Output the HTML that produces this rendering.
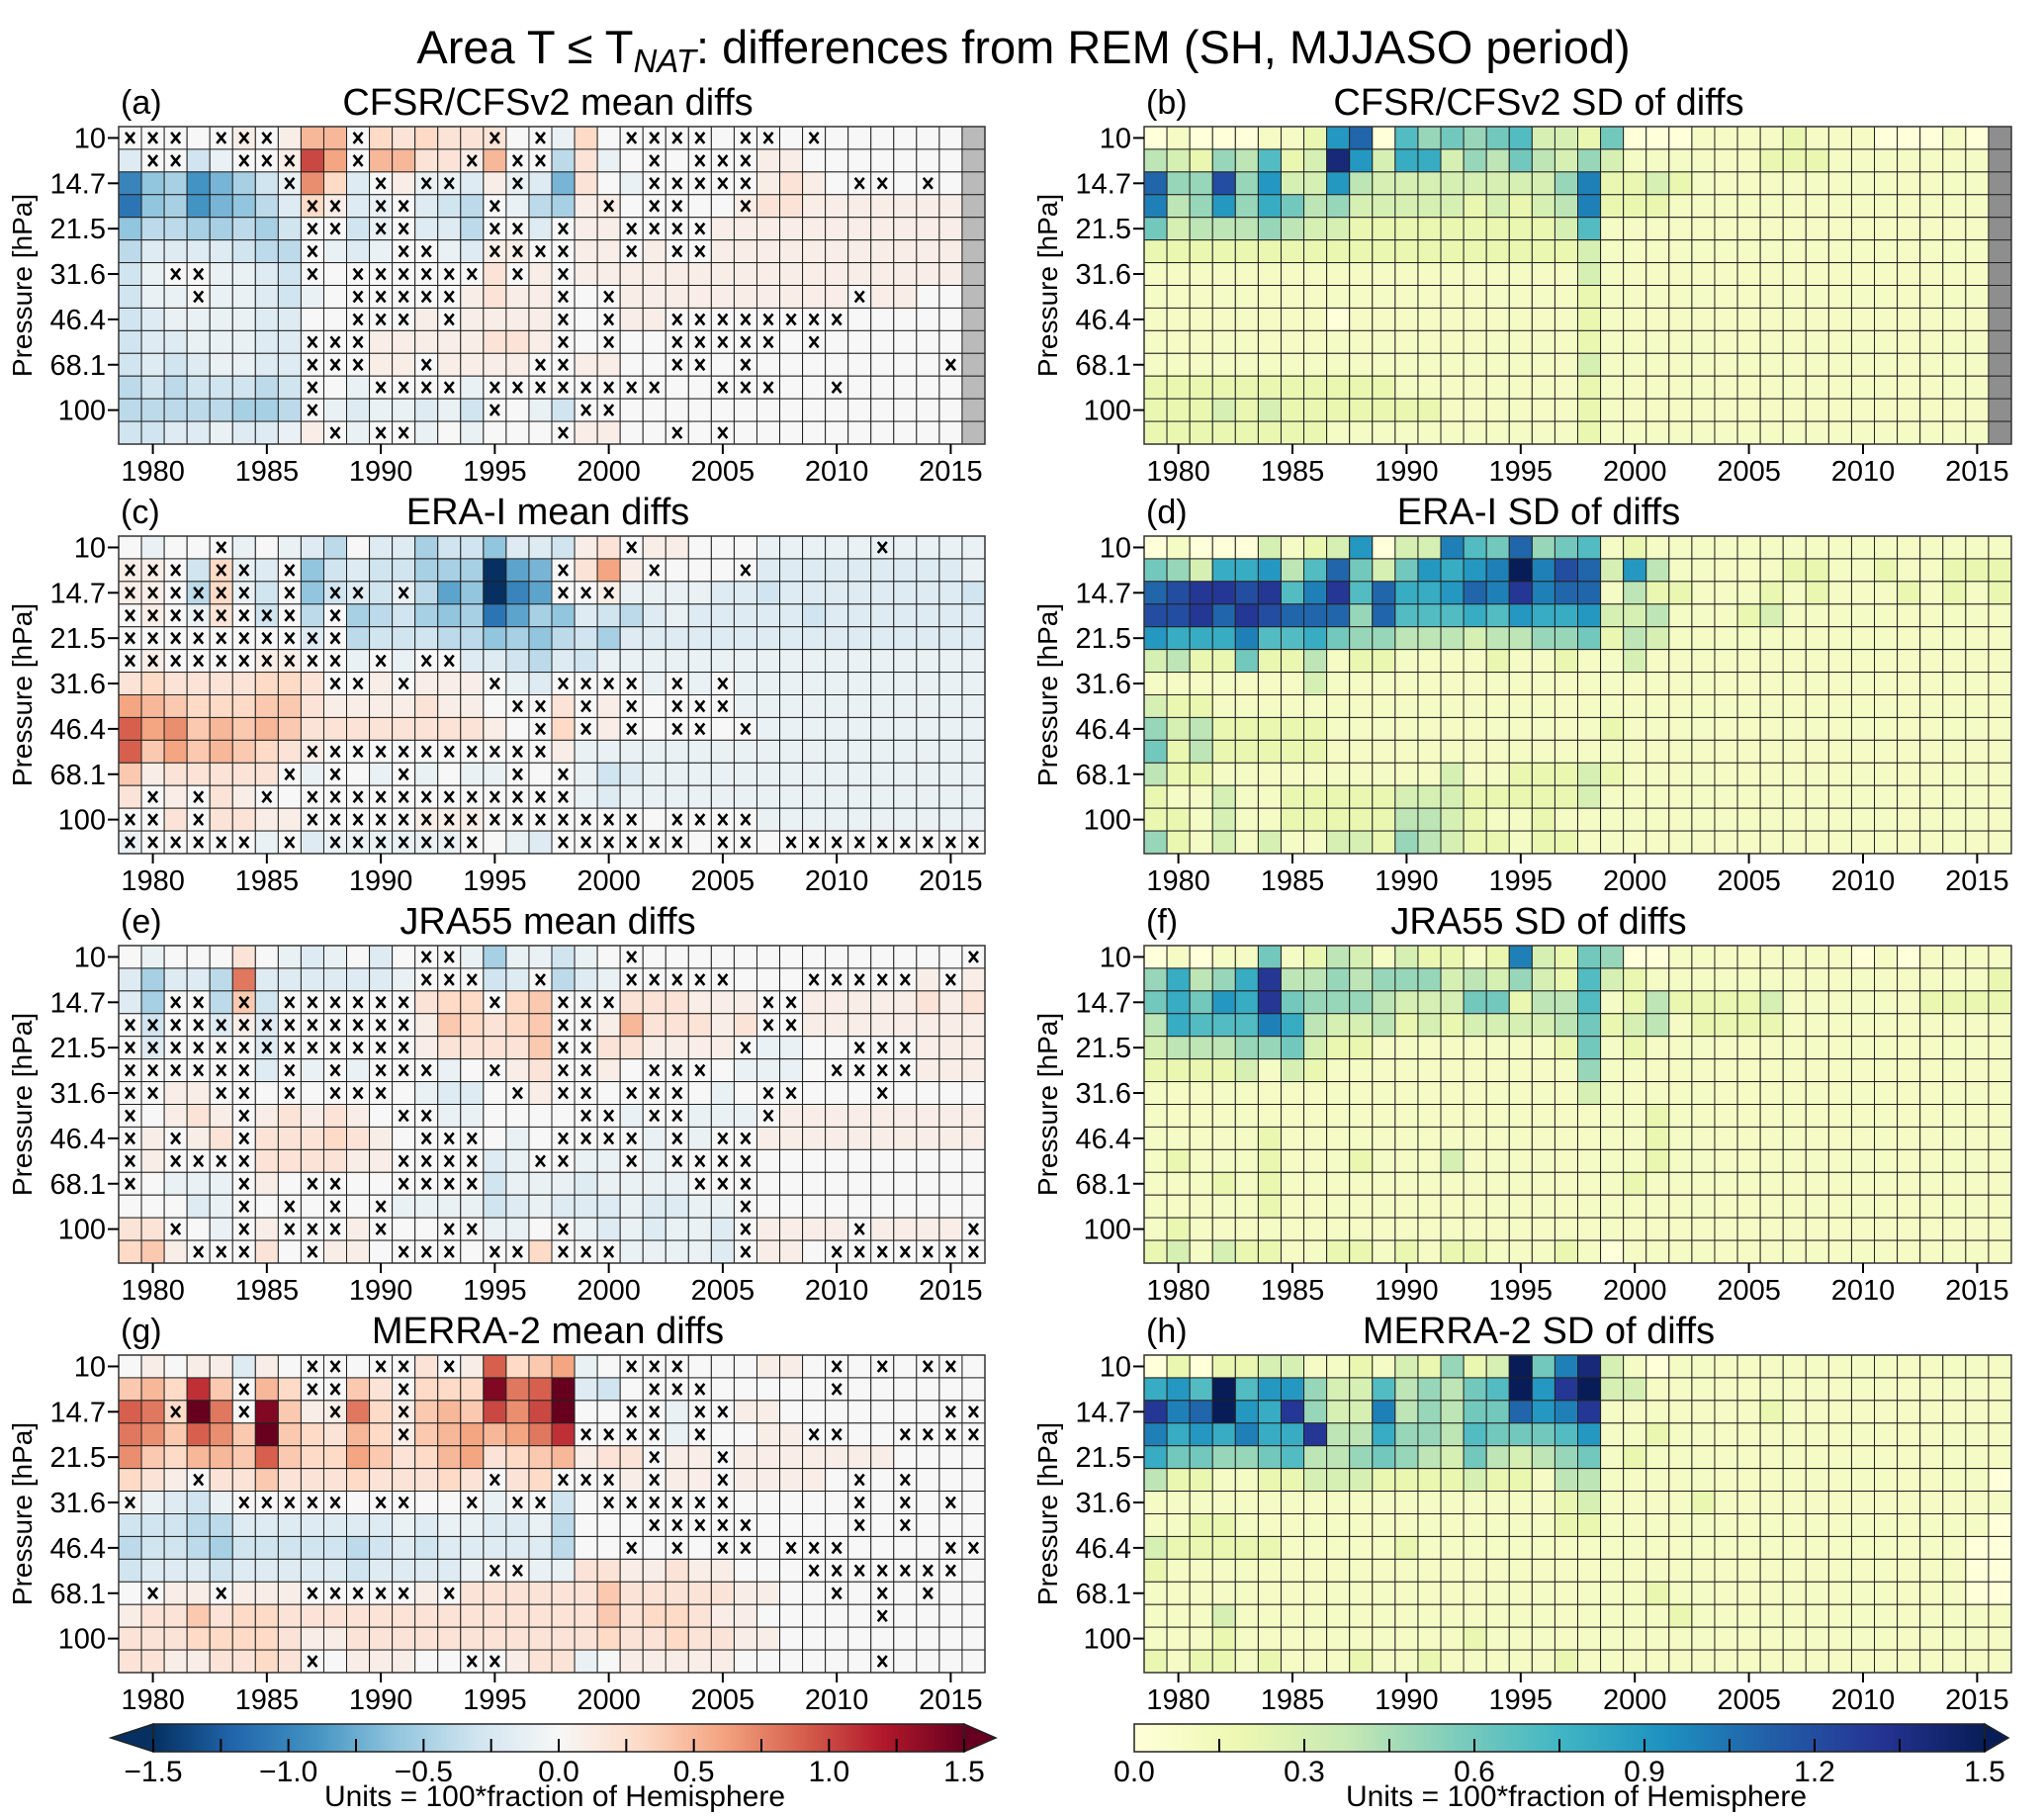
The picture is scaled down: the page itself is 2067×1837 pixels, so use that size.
<!DOCTYPE html>
<html><head><meta charset="utf-8"><style>
html,body{margin:0;padding:0;background:#fff;}
svg{display:block;font-family:"Liberation Sans",Arial,sans-serif;}
</style></head><body>
<svg id="fig" xmlns="http://www.w3.org/2000/svg" width="2067" height="1837" viewBox="0 0 2067 1837">
<text x="1035" y="64" text-anchor="middle" font-size="47">Area T ≤ T<tspan font-size="33" font-style="italic" dy="9">NAT</tspan><tspan dy="-9">: differences from REM (SH, MJJASO period)</tspan></text>
</svg>
<script>
const years=[1979,1980,1981,1982,1983,1984,1985,1986,1987,1988,1989,1990,1991,1992,1993,1994,1995,1996,1997,1998,1999,2000,2001,2002,2003,2004,2005,2006,2007,2008,2009,2010,2011,2012,2013,2014,2015,2016];
const levelLabels=["10","","14.7","","21.5","","31.6","","46.4","","68.1","","100",""];
const xTickYears=[1980,1985,1990,1995,2000,2005,2010,2015];
const meanTicks=[-1.5,-1.0,-0.5,0.0,0.5,1.0,1.5];
const meanTickText=["\u22121.5","\u22121.0","\u22120.5","0.0","0.5","1.0","1.5"];
const sdTicks=[0.0,0.3,0.6,0.9,1.2,1.5];
const sdTickText=["0.0","0.3","0.6","0.9","1.2","1.5"];

// mean diffs: lowercase a..o = -0.1..-1.5, uppercase A..O = +0.1..+1.5, 0 = 0, _ = missing
const meanA=[
"00000A0AEE0CBCBBB00aC"+"0000000000000000"+"_",
"b00ca00AJF0EEBBAE00dB"+"a000000AA0000000"+"_",
"jfeigecaGCb0AaabAabgB"+"0a00000ABA000000"+"_",
"kfeigfdbCAba0bcd0adeA"+"A00000ABBAAAAAAA"+"_",
"fddeedec00ca0bbd00b0A"+"A0000AAAAAAAAAAA"+"_",
"dbbbbcdd0aba00abAA00A"+"A0A00AAAAAAAAAAA"+"_",
"ca00aabc00000000B0A0A"+"AAAAAAAAAAAAAAAA"+"_",
"caa0aabca000000ABAA00"+"0AAAAAAAAAA0AA00"+"_",
"cbaaaabb00000A0AAAA00"+"0AA0000000000000"+"_",
"cbbaaabb000AAAAABBA00"+"0000000000000000"+"_",
"cbcbaabb000AA0AAAA00A"+"A000000000000000"+"_",
"dcdcccdc00a0000a00000"+"0000000000000000"+"_",
"dddddeed0abaabac00ac0"+"0000000000000000"+"_",
"ccbbabbaA0a00a0a0000A"+"A000000000000000"+"_"];
const crossA=[
"xxx.xxx...x.....x.x...xxxx.xx.x.......",
".xx..xxx..x....x.xx....x.xxx..........",
".......x.."+".x.xx..x.."+"...xxxxx.."+"..xx.x..",
"........xx"+".xx...x..."+".x.xx..x.."+"........",
"........xx"+".xx...xx.x"+"..xxxx...."+"........",
"........x."+"..xx..xxxx"+"..x.xx...."+"........",
"..xx....x."+"xxxxxx.x.x"+".........."+"........",
"...x......"+"xxxxx....x"+".x........"+"..x.....",
".........."+"xxx.x....x"+".x..xxxxxx"+"xx......",
"........xx"+"x........x"+".x..xxxxx."+"x.......",
"........xx"+"x..x....xx"+"....xx.x.."+"......x.",
"........x."+".xxxx.xxxx"+"xxxx..xxx."+".x......",
"........x."+"......x..."+"xx........"+"........",
".........x"+".xx......x"+"....x.x..."+"........"];
const meanC=[
"0a000a0abd"+"0bbeccfbbc"+"AB0AA000aa"+"aaaaaaaa",
"AA0cCab0fc"+"bcceeeohg0"+"BFA00000bb"+"bbbbbbba",
"AA0dCac0fc"+"bcadhfpjh0"+"0Aaaaabbcb"+"bbbbbbbc",
"0A0aB0c0d0"+"edcefekhef"+"bcdbabbbbb"+"cbbbbbbb",
"00000000b0"+"dcccddfefd"+"cebbbbbbbb"+"bbbbbbbb",
"0A0000AA00"+"a0a00bbcdb"+"caaaaaaaaa"+"aaaaaaaa",
"BCBBBBCCB0"+"0A0AAA0ab0"+"000a0a0aaa"+"aaaaaaaa",
"FEDCCCDDBA"+"AAABAA000B"+"0A00000aaa"+"aaaaaaaa",
"IFGDEDEDBB"+"BBBBBBA00C"+"0A000000aa"+"aaaaaaaa",
"IDFDEDCBA0"+"000000000A"+"aaaaaaaaaa"+"aaaaaaaa",
"DABBBBB0a0"+"0a0a0aa000"+"acbaaaaaaa"+"aaaaaaaa",
"B0A0BA0000"+"0000000000"+"abaaaaaaaa"+"aaaaaaaa",
"00B0BBAA00"+"000AAA0000"+"00000000aa"+"aaaaaaaa",
"a00000a0ba"+"aaaaa00ab0"+"0000000000"+"00000000"];
const crossC=[
"....x....."+".........."+"..x......."+"...x....",
"xxx.xx.x.."+".........x"+"...x...x.."+"........",
"xxxxxx.x.x"+"x.x......x"+"xx........"+"........",
"xxxxxxxx.x"+".........."+".........."+"........",
"xxxxxxxxxx"+".........."+".........."+"........",
"xxxxxxxxxx"+".x.xx....."+".........."+"........",
".........x"+"x.x...x..x"+"xxx.x.x..."+"........",
".........."+".......xx."+"x.x.xxx..."+"........",
".........."+"........x."+"x.x.xx.x.."+"........",
"........xx"+"xxxxxxxxx."+".........."+"........",
".......x.x"+"..x....x.x"+".........."+"........",
".x.x..x.xx"+"xxxxxxxxxx"+".........."+"........",
"xx.x....xx"+"xxxxxxxxxx"+"xxx.xxxx.."+"........",
"xxxxxx.x.x"+"xxxxxx...x"+"xxxxx.xx.x"+"xxxxxxxx"];
const meanE=[
"0a000B0aba"+"0b000aeaac"+"a000000000"+"00000000",
"bebbdHbbbb"+"bba000cb0d"+"ba00000000"+"00000A0A",
"be00dDc000"+"000BCC0CD0"+"00BBBAAA00"+"AAAAABAB",
"0c00bAb000"+"000ADCBCD0"+"0AEBBBAB00"+"AAAAAAAA",
"0b0000b000"+"000ABBBBD0"+"0BBAAAA0aa"+"00000AAA",
"000000b0a0"+"a000a00AB0"+"0A00000aaa"+"00000AAA",
"00AA000000"+"000abb00A0"+"000000a000"+"00000000",
"00ABA0ABAB"+"A000aa0000"+"00a00aaa0A"+"AAAAAAAA",
"0A0AB0BBBC"+"BA00000a00"+"000a0a00AA"+"AAAAAAAA",
"0A0000BBBB"+"AA0000ba00"+"aa0a000000"+"00000000",
"00aaa0A000"+"000000caaa"+"baaaa00000"+"00000000",
"000ba00000"+"00aaaacbab"+"bbabbaa000"+"00000000",
"BB00a0A000"+"A00000aa00"+"ababaab0AA"+"AA0AAAA0",
"CDA000B00A"+"A0000000C0"+"00aaaab0AA"+"00000000"];
const crossE=[
".........."+"...xx....."+"..x......."+".......x",
".........."+"...xxx..x."+"..xxxxx..."+"xxxxx.x.",
"..xx.x.xxx"+"xxx...x..x"+"xx......xx"+"........",
"xxxxxxxxxx"+"xxx......x"+"x.......xx"+"........",
"xxxxxxxxxx"+"xxx......x"+"x......x.."+"..xxx...",
"xxxxxx.x.x"+".xxx..x..x"+"x..xxx...."+".xxxx...",
"xx..xx.x.x"+"xx.....x.x"+"x.xxx...xx"+"...x....",
"x....x...."+"..xx......"+"xx.xx...x."+"........",
"x.x..x...."+"...xxx...x"+"xxx.x.xx.."+"........",
"x.xxxx...."+"..xxxx..xx"+"..x.xxxx.."+"........",
"x....x..xx"+"..xxxx...."+".....xxx.."+"........",
".....x.x.x"+".x........"+".......x.."+"........",
"..x..x.xxx"+".x..xx...x"+".......x.."+"..x....x",
"...xxx..x."+"..xxx.xx.x"+"xx.....x.."+".xxxxxxx"];
const meanG=[
"0A0AAbA000"+"000B0AICDF"+"a0000000AA"+"00000000",
"DECKD0EC00"+"DB0CCCNHIO"+"bc00000000"+"00000000",
"IHCOH0NDAA"+"HCADEDJGJO"+"0000a00AA0"+"00000000",
"HGDIGDODCB"+"ECADEFEFHK"+"0000a000AA"+"00000000",
"GDCEEDIDCC"+"FDBCEFBCDE"+"ABB0AA0AAA"+"AAAA0000",
"CBA0BBDBBB"+"CBBBCB0BC0"+"00A0AA0AAA"+"A0000000",
"0abca00000"+"000000a00c"+"0000000000"+"00000000",
"cccddbbbbb"+"bbabaabbad"+"0000000000"+"00000000",
"dccdeccccc"+"dcbcbbbbbd"+"0000000000"+"00000000",
"cbbbcbbbbb"+"cbbbba00aa"+"BBAABAA000"+"00000000",
"00AA0AAA00"+"000A0BBBBB"+"BDBBBBBAA0"+"00000000",
"ABBDBCCBBB"+"BBBBBBBBBB"+"BDBCCBAA00"+"00000000",
"BBBCCCCBAA"+"BBBBBBBBBB"+"BCBBCBBAA0"+"00000000",
"BBAABBCB00"+"AAA0000ABB"+"a0AAAAA000"+"00000000"];
const crossG=[
"........xx"+".xx.x....."+"..xxx....."+".x.x.xx.",
".....x..xx"+"..x......."+"...xxx...."+".x......",
"..x..x...x"+"..x......."+"..xx.xx..."+"......xx",
".........."+"..x......."+"xxxx.x...."+"xx..xxxx",
".........."+".........."+"...x..x..."+"........",
"...x......"+"......x..x"+"xx.x..x..."+"..x.x...",
"x....xxxxx"+".xx..x.xx."+".xxxxxx..."+"..x.x.x.",
".........."+".........."+"...xxxxx.."+"..x.x...",
".........."+".........."+"..x.x.xx.x"+"xx....xx",
".........."+"......xx.."+".........."+"xxxxxxx.",
".x..x...xx"+"xxx.x....."+".........."+".x.x.x..",
".........."+".........."+".........."+"...x....",
".........."+".........."+".........."+"........",
"........x."+".....xx..."+".........."+"...x...."];
// SD of diffs: hex digit = value*10, _ = missing
const sdB=[
"010001129b07565673326"+"0001111211100010"+"_",
"43254723e938835464353"+"1111112221111111"+"_",
"b55c593394333333335a2"+"2321111111111111"+"_",
"a459586453333323234a2"+"2211111111111111"+"_",
"634445433222222222371"+"1111111111111111"+"_",
"222222222222222222231"+"1111111111111111"+"_",
"111111111111111111131"+"1111111111111111"+"_",
"111111111111111111121"+"1111111111111111"+"_",
"111111110111111111121"+"1111111111111111"+"_",
"111111111111111111121"+"1111111111111111"+"_",
"111111111111111111131"+"1111111111111111"+"_",
"222222222221111111121"+"1111111111111111"+"_",
"222323222222211111121"+"1111111111111111"+"_",
"222222221111111111121"+"1111111111111111"+"_"];
const sdD=[
"0100031239"+"033a76b567"+"1211111111"+"11111111",
"65388947b6"+"36989afacb"+"3941111122"+"11211222",
"bcddcd7ad7"+"b889badabb"+"1422111212"+"11121212",
"ccdbdcbbb5"+"b777879889"+"3341112311"+"11111111",
"9888a77865"+"5444344556"+"2431111111"+"11111111",
"3422622412"+"2111121121"+"1311111111"+"11111111",
"1111111311"+"1111111111"+"1111111111"+"11111111",
"3221111111"+"1111111111"+"1111111111"+"11111111",
"5342222211"+"1111111111"+"2111111111"+"11111111",
"6242222211"+"1111111111"+"1111111111"+"11111111",
"4221111111"+"1113112223"+"2111111111"+"11111111",
"2113112222"+"2333222223"+"1111111111"+"11111111",
"2213112222"+"2443211211"+"1111111111"+"11111111",
"5213131133"+"2543221221"+"1111111111"+"11111111"];
const sdF=[
"0101161243"+"132212a326"+"5001111111"+"10101111",
"58458d4454"+"5553435327"+"3211111111"+"11111112",
"68698d6555"+"4333662447"+"1242222311"+"11112222",
"48777a8433"+"4232333346"+"2341222211"+"11111111",
"3444556322"+"1111111126"+"1211111111"+"11111111",
"2222313211"+"1111111115"+"1111111111"+"11111111",
"1111111111"+"1111111113"+"1111111111"+"11111111",
"1111111111"+"1111111111"+"1121111111"+"11111111",
"1111121111"+"1111111111"+"1121111111"+"11111111",
"1211121112"+"1113111111"+"1121111111"+"11111111",
"1112121111"+"1111111111"+"1211111111"+"11111111",
"1111121111"+"1111111111"+"1111111111"+"11111111",
"1211111111"+"1111111111"+"1111111111"+"11111111",
"2313221122"+"1212211121"+"0111111111"+"11111111"];
const sdH=[
"0202233112"+"132523f6ae"+"3101111111"+"11111111",
"897f799533"+"745467f9df"+"3311111111"+"11111111",
"dabf98d533"+"a45466b9ad"+"1111111211"+"11111111",
"a898a88d44"+"8554766679"+"1121111111"+"11111111",
"8665567445"+"6543643456"+"1211111111"+"11111111",
"4221122333"+"2222322144"+"1111111111"+"11111110",
"1111111111"+"1111111123"+"1111211111"+"11111111",
"1122111111"+"1111111122"+"1111111111"+"11111110",
"3222221111"+"1211111111"+"1111111111"+"11111100",
"2111111111"+"1111111111"+"1111111111"+"11111100",
"1111111111"+"1111111111"+"1121111111"+"11111100",
"1113111111"+"1111111111"+"1112111111"+"11111111",
"1112111111"+"1111211111"+"1111111111"+"11111111",
"2122121112"+"1121111121"+"1111111111"+"11111111"];

const NS="http://www.w3.org/2000/svg";
const svg=document.getElementById('fig');
function mk(tag,attrs,parent){const e=document.createElementNS(NS,tag);for(const k in attrs)e.setAttribute(k,attrs[k]);(parent||svg).appendChild(e);return e;}
function decMean(ch){if(ch==='_')return null;if(ch==='0')return 0;const c=ch.charCodeAt(0);if(c>=65&&c<=90)return (c-64)*0.1;return -(c-96)*0.1;}
function decSD(ch){if(ch==='_')return null;return parseInt(ch,16)/10;}
const rdbu=["#053061","#2166ac","#4393c3","#92c5de","#d1e5f0","#f7f7f7","#fddbc7","#f4a582","#d6604d","#b2182b","#67001f"];
const ylgnbu=["#ffffd9","#edf8b1","#c7e9b4","#7fcdbb","#41b6c4","#1d91c0","#225ea8","#253494","#081d58"];
function hex(h){return [parseInt(h.substr(1,2),16),parseInt(h.substr(3,2),16),parseInt(h.substr(5,2),16)];}
function cmap(stops,t){t=Math.max(0,Math.min(1,t));const n=stops.length-1;const p=t*n;const i=Math.min(n-1,Math.floor(p));const f=p-i;const a=hex(stops[i]),b=hex(stops[i+1]);return "rgb("+a.map((v,k)=>Math.round(v+(b[k]-v)*f)).join(",")+")";}
function meanColor(v){return cmap(rdbu,(v+1.5)/3);}
function sdColor(v){return cmap(ylgnbu,v/1.5);}

const L={x0:120,x1:996},R={x0:1157,x1:2034};
const TOP0=128,STEP=414,PH=321;
const panels=[
 {id:'a',title:'CFSR/CFSv2 mean diffs',vals:meanA,cross:crossA,kind:'mean',c:0,r:0},
 {id:'b',title:'CFSR/CFSv2 SD of diffs',vals:sdB,cross:null,kind:'sd',c:1,r:0},
 {id:'c',title:'ERA-I mean diffs',vals:meanC,cross:crossC,kind:'mean',c:0,r:1},
 {id:'d',title:'ERA-I SD of diffs',vals:sdD,cross:null,kind:'sd',c:1,r:1},
 {id:'e',title:'JRA55 mean diffs',vals:meanE,cross:crossE,kind:'mean',c:0,r:2},
 {id:'f',title:'JRA55 SD of diffs',vals:sdF,cross:null,kind:'sd',c:1,r:2},
 {id:'g',title:'MERRA-2 mean diffs',vals:meanG,cross:crossG,kind:'mean',c:0,r:3},
 {id:'h',title:'MERRA-2 SD of diffs',vals:sdH,cross:null,kind:'sd',c:1,r:3}];

panels.forEach(p=>{
 const X=p.c===0?L:R; const top=TOP0+STEP*p.r; const nC=years.length, nR=levelLabels.length;
 const cw=(X.x1-X.x0)/nC, rh=PH/nR;
 const xs=i=>X.x0+i*cw; const ys=j=>top+j*rh;
 const xYear=y=>X.x0+(years.indexOf(y)+0.5)*cw;
 const g=mk('g',{});
 
 
 for(let j=0;j<nR;j++){for(let i=0;i<nC;i++){
   const ch=p.vals[j][i]; const v=p.kind==='mean'?decMean(ch):decSD(ch);
   const fill=v===null?(p.kind==='mean'?'#bababa':'#8e8e8e'):(p.kind==='mean'?meanColor(v):sdColor(v));
   const r=mk('rect',{x:xs(i),y:ys(j),width:cw,height:rh,fill:fill,stroke:'#222','stroke-width':1},g);
   
   
   if(p.cross&&p.cross[j][i]==='x'){
     const cx=xs(i)+cw/2, cy=ys(j)+rh/2;
     const cg=mk('g',{stroke:'#000','stroke-width':2.6,'stroke-linecap':'butt'},g);
     
     
     mk('line',{x1:cx-4.5,y1:cy-5.5,x2:cx+4.5,y2:cy+5.5},cg);
     mk('line',{x1:cx+4.5,y1:cy-5.5,x2:cx-4.5,y2:cy+5.5},cg);
   }
 }}
 const fr=mk('rect',{x:X.x0,y:top,width:X.x1-X.x0,height:PH,fill:'none',stroke:'#333','stroke-width':1.5},g);
 
 
 levelLabels.forEach((lab,j)=>{ if(!lab)return;
   const cy=ys(j)+rh/2;
   mk('line',{x1:X.x0-11,y1:cy,x2:X.x0,y2:cy,stroke:'#000','stroke-width':2},g);
   const t=mk('text',{x:X.x0-13,y:cy+10,'text-anchor':'end','font-size':29},g);
   t.textContent=lab;
   
   
 });
 xTickYears.forEach(y=>{const cx=xYear(y);
   mk('line',{x1:cx,y1:top+PH,x2:cx,y2:top+PH+10,stroke:'#000','stroke-width':2},g);
   const t=mk('text',{x:cx,y:top+PH+37,'text-anchor':'middle','font-size':29},g);
   t.textContent=String(y);
   
   
 });
 const yt=mk('text',{x:0,y:0,'text-anchor':'middle','font-size':28,transform:'translate('+(X.x0-88)+','+(top+PH/2)+') rotate(-90)'},g);
 yt.textContent='Pressure [hPa]';
 
 
 const pl=mk('text',{x:X.x0+2,y:top-13,'font-size':34},g);
 pl.textContent='('+p.id+')';
 
 
 const tt=mk('text',{x:p.c===0?554:1556,y:top-12,'text-anchor':'middle','font-size':38},g);
 tt.textContent=p.title;
 
 
});

function colorbar(name,x0,x1,tipL,tipR,stops,ticksMinor,vmin,vmax,labVals,labText,unitsX){
 const y0=1743,y1=1771;
 const g=mk('g',{});
 
 
 const defs=mk('defs',{},g);
 const lg=mk('linearGradient',{id:name+'-grad',x1:0,y1:0,x2:1,y2:0},defs);
 stops.forEach((c,i)=>mk('stop',{offset:(i/(stops.length-1)),'stop-color':c},lg));
 mk('rect',{x:x0,y:y0,width:x1-x0,height:y1-y0,fill:'url(#'+name+'-grad)'},g);
 if(tipL) mk('polygon',{points:x0+','+y0+' '+tipL+','+((y0+y1)/2)+' '+x0+','+y1,fill:stops[0],stroke:'#222','stroke-width':1.5},g);
 if(tipR) mk('polygon',{points:x1+','+y0+' '+tipR+','+((y0+y1)/2)+' '+x1+','+y1,fill:stops[stops.length-1],stroke:'#222','stroke-width':1.5},g);
 mk('rect',{x:x0,y:y0,width:x1-x0,height:y1-y0,fill:'none',stroke:'#222','stroke-width':1.5},g);
 const sx=v=>x0+(v-vmin)/(vmax-vmin)*(x1-x0);
 ticksMinor.forEach(v=>mk('line',{x1:sx(v),y1:y0+15,x2:sx(v),y2:y1,stroke:'#000','stroke-width':2},g));
 labVals.forEach((v,i)=>{const t=mk('text',{x:sx(v),y:1801,'text-anchor':'middle','font-size':30},g);t.textContent=labText[i];
   
   });
 const u=mk('text',{x:unitsX,y:1826,'text-anchor':'middle','font-size':30},g);
 u.textContent='Units = 100*fraction of Hemisphere';
 
 
}
const meanMinor=[-1.5,-1.25,-1.0,-0.75,-0.5,-0.25,0,0.25,0.5,0.75,1.0,1.25,1.5];
const sdMinor=[0.15,0.3,0.45,0.6,0.75,0.9,1.05,1.2,1.35,1.5];
colorbar('mean-colorbar',155,975,112,1007,rdbu,meanMinor,-1.5,1.5,meanTicks,meanTickText,561);
colorbar('sd-colorbar',1147,2007,null,2031,ylgnbu,sdMinor,0,1.5,sdTicks,sdTickText,1594);
</script>
</body></html>
